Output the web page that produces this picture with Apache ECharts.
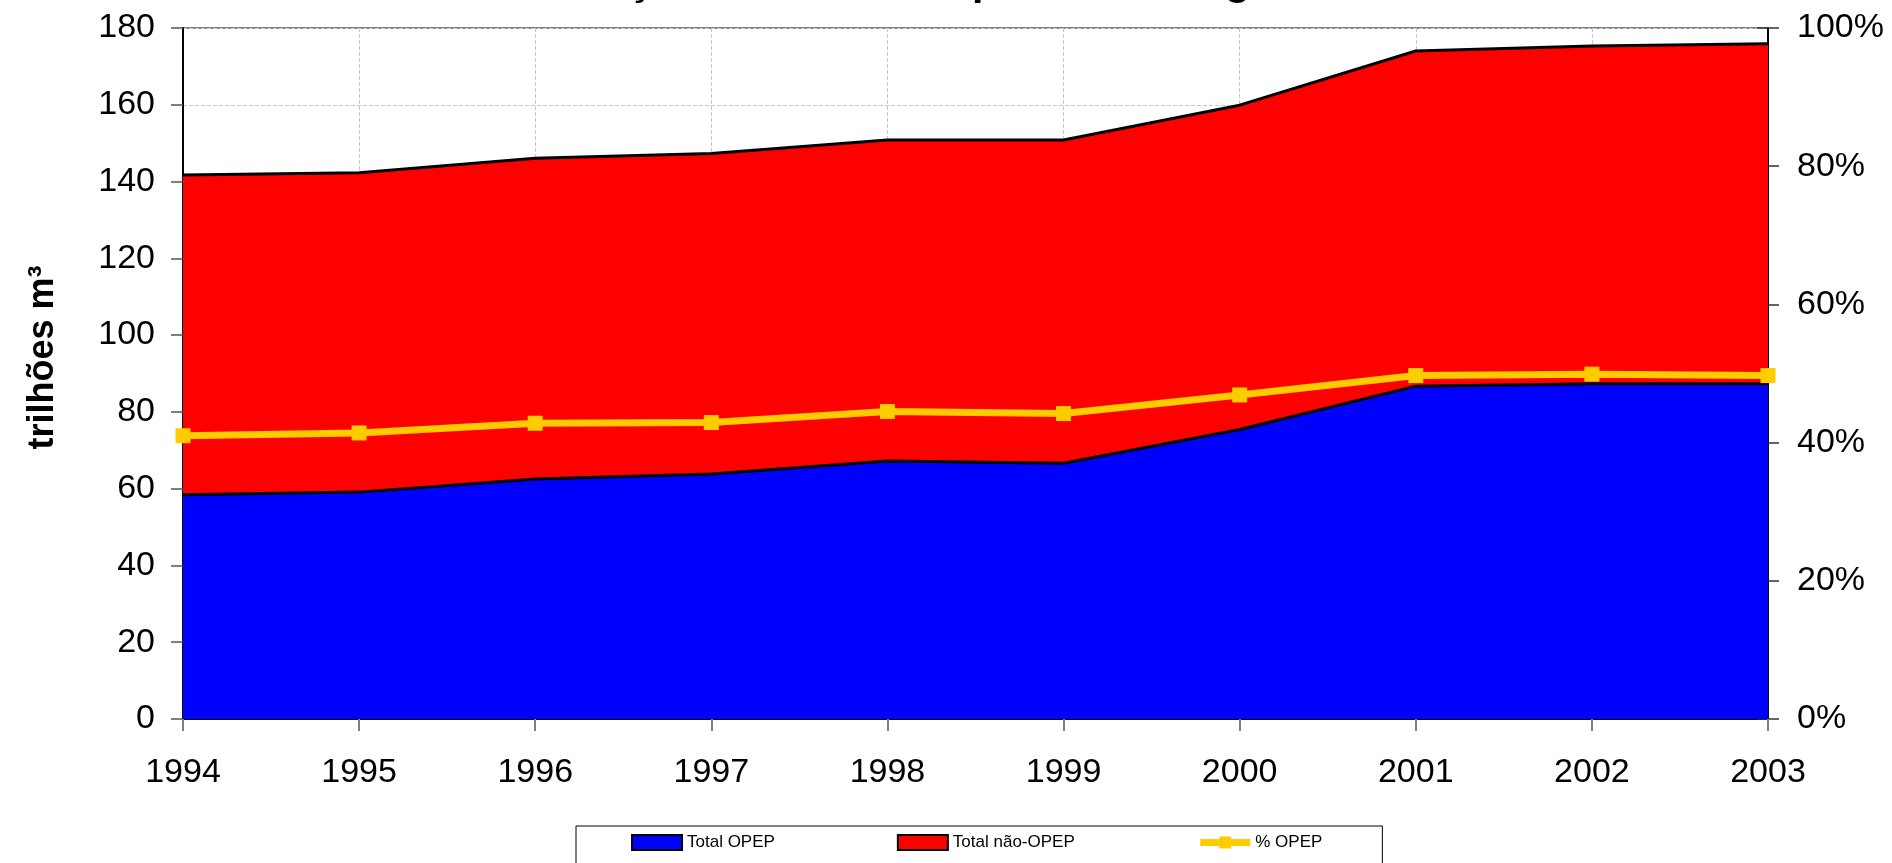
<!DOCTYPE html>
<html>
<head>
<meta charset="utf-8">
<script src="https://cdn.jsdelivr.net/npm/echarts@6/dist/echarts.min.js"></script>
<style>
  html, body { margin: 0; padding: 0; background: #fff; }
  #chart { width: 1892px; height: 863px; }
</style>
</head>
<body>
<div id="chart"></div>
<script>
const titleText = 'Evolução das reservas provadas de gás natural';
const years = ['1994', '1995', '1996', '1997', '1998', '1999', '2000', '2001', '2002', '2003'];
const totalOPEP = [58.4, 59.1, 62.5, 63.8, 67.2, 66.6, 75.4, 86.7, 87.3, 87.3];
const totalNaoOPEP = [83.3, 83.2, 83.6, 83.5, 83.6, 84.2, 84.5, 87.3, 88.0, 88.6];
const pctOPEP = [41.0, 41.4, 42.8, 42.9, 44.5, 44.2, 46.9, 49.7, 49.9, 49.7];
const seriesNames = ['Total OPEP', 'Total não-OPEP', '% OPEP'];
const yAxisName = 'trilhões m³';

const FONT = '"Liberation Sans", Arial, sans-serif';
const chart = echarts.init(document.getElementById('chart'), null, { renderer: 'canvas' });

const option = {
  animation: false,
  backgroundColor: '#ffffff',
  title: {
    text: titleText,
    left: 975,
    top: -42,
    textAlign: 'center',
    textStyle: { fontFamily: FONT, fontSize: 41, fontWeight: 'bold', color: '#000' }
  },
  grid: {
    left: 183, right: 124, top: 28, bottom: 144,
    show: true, borderColor: '#808080', borderWidth: 2, backgroundColor: 'transparent'
  },
  legend: {
    left: 576,
    top: 826,
    padding: [8, 60, 30, 55],
    borderColor: '#000',
    borderWidth: 1,
    itemGap: 122,
    itemWidth: 50,
    itemHeight: 15,
    textStyle: { fontFamily: FONT, fontSize: 17, color: '#000' },
    data: [
      { name: seriesNames[0], icon: 'rect', itemStyle: { color: '#0000FF', borderColor: '#000', borderWidth: 2 } },
      { name: seriesNames[1], icon: 'rect', itemStyle: { color: '#FF0000', borderColor: '#000', borderWidth: 2 } },
      { name: seriesNames[2], lineStyle: { color: '#FFCC00', width: 7 }, itemStyle: { color: '#FFCC00' } }
    ]
  },
  xAxis: {
    type: 'category',
    data: years,
    boundaryGap: false,
    axisLine: { lineStyle: { color: '#000', width: 2 } },
    axisTick: { show: true, length: 12, lineStyle: { color: '#808080', width: 2 } },
    axisLabel: { color: '#000', fontFamily: FONT, fontSize: 34, margin: 37 },
    splitLine: { show: true, lineStyle: { color: '#c8c8c8', type: 'dashed', width: 1 } }
  },
  yAxis: [
    {
      type: 'value',
      min: 0, max: 180, interval: 20,
      position: 'left',
      name: yAxisName,
      nameLocation: 'middle',
      nameGap: 122,
      nameRotate: 90,
      nameTextStyle: { fontFamily: FONT, fontSize: 36, fontWeight: 'bold', color: '#000', padding: [0, 0, 0, 32] },
      axisLine: { show: true, lineStyle: { color: '#000', width: 2 } },
      axisTick: { show: true, length: 12, lineStyle: { color: '#555', width: 1.5 } },
      axisLabel: { color: '#000', fontFamily: FONT, fontSize: 34, margin: 28 },
      splitLine: { show: true, lineStyle: { color: '#c8c8c8', type: 'dashed', width: 1 } }
    },
    {
      type: 'value',
      min: 0, max: 100, interval: 20,
      position: 'right',
      axisLine: { show: true, lineStyle: { color: '#000', width: 2 } },
      axisTick: { show: true, length: 11, lineStyle: { color: '#333', width: 1.5 } },
      axisLabel: { color: '#000', fontFamily: FONT, fontSize: 34, margin: 29, formatter: '{value}%' },
      splitLine: { show: false }
    },
    {
      type: 'value',
      min: 0, max: 100, interval: 20,
      position: 'right',
      axisLine: { show: false },
      axisTick: { show: true, inside: true, length: 11, lineStyle: { color: '#333', width: 1.5 } },
      axisLabel: { show: false },
      splitLine: { show: false }
    }
  ],
  series: [
    {
      name: seriesNames[0],
      type: 'line',
      stack: 'reservas',
      data: totalOPEP,
      symbol: 'none',
      z: 2,
      lineStyle: { color: '#000', width: 3 },
      itemStyle: { color: '#0000FF' },
      areaStyle: { color: '#0000FF', opacity: 1 }
    },
    {
      name: seriesNames[1],
      type: 'line',
      stack: 'reservas',
      data: totalNaoOPEP,
      symbol: 'none',
      z: 2,
      lineStyle: { color: '#000', width: 3 },
      itemStyle: { color: '#FF0000' },
      areaStyle: { color: '#FF0000', opacity: 1 }
    },
    {
      name: seriesNames[2],
      type: 'line',
      yAxisIndex: 1,
      data: pctOPEP,
      symbol: 'rect',
      symbolSize: 15,
      z: 5,
      lineStyle: { color: '#FFCC00', width: 7 },
      itemStyle: { color: '#FFCC00' }
    }
  ]
};
chart.setOption(option);
</script>
</body>
</html>
